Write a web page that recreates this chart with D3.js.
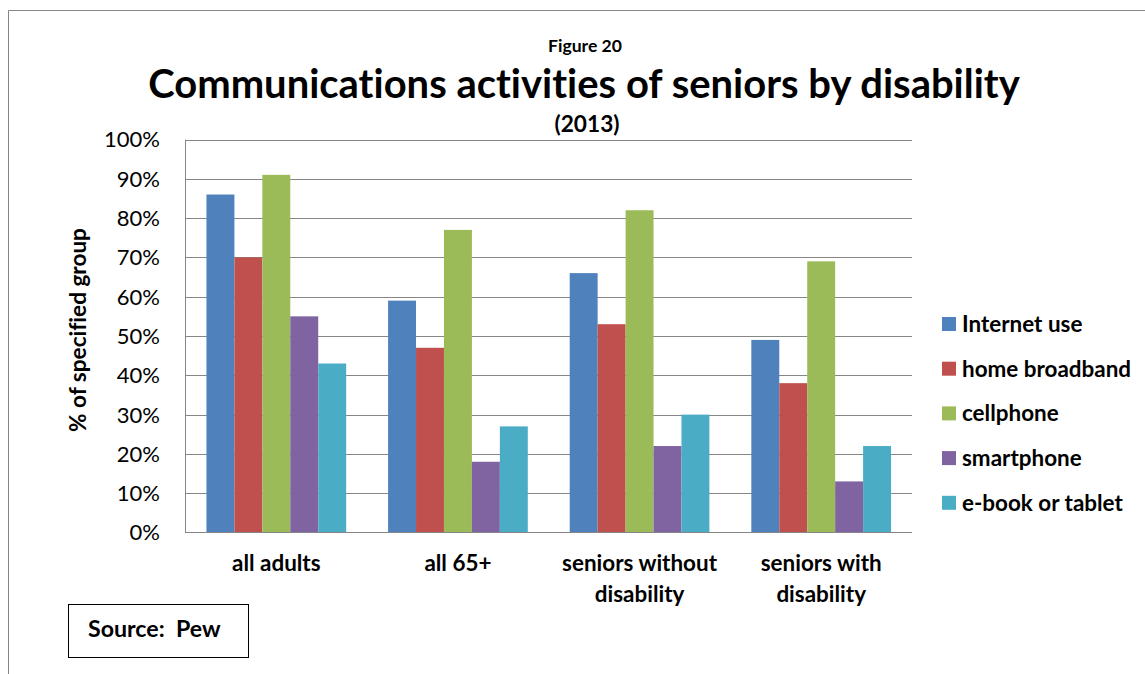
<!DOCTYPE html>
<html>
<head>
<meta charset="utf-8">
<script src="https://cdn.jsdelivr.net/npm/d3@7"></script>
<style>
  html, body { margin: 0; padding: 0; background: #fff; }
  svg { display: block; }
  text { font-family: Lato, "Open Sans", sans-serif; fill: #000;
         font-variant-ligatures: none; font-feature-settings: "liga" 0, "clig" 0; }
</style>
</head>
<body>
<svg id="chart" width="1145" height="674"></svg>
<script>
// Groups along the x axis (two-line labels are split on "\n")
const categories = ["all adults", "all 65+", "seniors without\ndisability", "seniors with\ndisability"];
// Series names, in legend order
const seriesNames = ["Internet use", "home broadband", "cellphone", "smartphone", "e-book or tablet"];
// Percent of each group, one array per series
const internetUse = [86, 59, 66, 49];
const homeBroadband = [70, 47, 53, 38];
const cellphone = [91, 77, 82, 69];
const smartphone = [55, 18, 22, 13];
const ebookTablet = [43, 27, 30, 22];
// Axis ticks
const yTicks = [0, 10, 20, 30, 40, 50, 60, 70, 80, 90, 100];

const seriesValues = [internetUse, homeBroadband, cellphone, smartphone, ebookTablet];
const colors = ["#4F81BD", "#C0504D", "#9BBB59", "#8064A2", "#4BACC6"];

const svg = d3.select("#chart");

// measure a string at a given size so labels can be sized to a target width
const probe = svg.append("text").attr("font-weight", "bold").attr("x", -9999).attr("y", -9999);
function widthAt(str, size, weight) {
  probe.attr("font-weight", weight || "bold").attr("font-size", size).text(str);
  return probe.node().getComputedTextLength();
}
function fitSize(str, target, weight) {
  return 40 * target / widthAt(str, 40, weight);
}
const base = fitSize("seniors without", 155, "bold");
const baseReg = fitSize("100%", 56, "normal");

// outer frame
svg.append("path")
  .attr("d", "M8.5,674 V10.5 H1145")
  .attr("fill", "none").attr("stroke", "#868686").attr("stroke-width", 1);

// plot area
const plot = { left: 185.5, right: 912, top: 139.5, bottom: 532.5 };

const x0 = d3.scaleBand().domain(categories).range([plot.left, plot.right]).padding(0);
const gw = x0.bandwidth();
const barW = gw / (seriesNames.length + 1.5);
const x1 = d3.scaleBand().domain(seriesNames)
  .range([0.75 * barW, gw - 0.75 * barW]).padding(0);
const y = d3.scaleLinear().domain([0, 100]).range([plot.bottom, plot.top]);

// gridlines
svg.append("g").selectAll("line").data(yTicks.filter(d => d > 0)).join("line")
  .attr("x1", plot.left).attr("x2", plot.right)
  .attr("y1", d => Math.round(y(d)) + 0.5).attr("y2", d => Math.round(y(d)) + 0.5)
  .attr("stroke", "#868686").attr("stroke-width", 1);

// bars
const groups = svg.append("g").selectAll("g").data(categories).join("g")
  .attr("transform", d => `translate(${x0(d)},0)`);
groups.selectAll("rect")
  .data((c, ci) => seriesNames.map((s, si) => ({ s, si, v: seriesValues[si][ci] })))
  .join("rect")
  .attr("x", d => x1(d.s))
  .attr("width", x1.bandwidth())
  .attr("y", d => y(d.v))
  .attr("height", d => y(0) - y(d.v))
  .attr("fill", d => colors[d.si]);

// axis lines
svg.append("line").attr("x1", plot.left).attr("x2", plot.left)
  .attr("y1", plot.top).attr("y2", plot.bottom + 0.5)
  .attr("stroke", "#868686").attr("stroke-width", 1);
svg.append("line").attr("x1", plot.left).attr("x2", plot.right)
  .attr("y1", plot.bottom).attr("y2", plot.bottom)
  .attr("stroke", "#868686").attr("stroke-width", 1);

// y tick labels
svg.append("g").selectAll("text").data(yTicks).join("text")
  .attr("x", 160).attr("y", d => y(d))
  .attr("dy", "0.36em")
  .attr("text-anchor", "end")
  .attr("font-size", baseReg)
  .text(d => d + "%");

// x category labels
const xl = svg.append("g").selectAll("text").data(categories).join("text")
  .attr("x", d => x0(d) + gw / 2)
  .attr("y", 571)
  .attr("text-anchor", "middle")
  .attr("font-weight", "bold")
  .attr("font-size", base);
xl.selectAll("tspan").data(d => d.split("\n")).join("tspan")
  .attr("x", function () { return d3.select(this.parentNode).attr("x"); })
  .attr("dy", (d, i) => i === 0 ? 0 : 31)
  .text(d => d);

// y axis title
svg.append("text")
  .attr("transform", "translate(86,330) rotate(-90)")
  .attr("text-anchor", "middle")
  .attr("font-weight", "bold")
  .attr("font-size", fitSize("% of specified group", 204, "bold"))
  .text("% of specified group");

// titles
svg.append("text").attr("x", 585).attr("y", 52).attr("text-anchor", "middle")
  .attr("font-weight", "bold").attr("font-size", fitSize("Figure 20", 74, "bold"))
  .text("Figure 20");
svg.append("text").attr("x", 584).attr("y", 98).attr("text-anchor", "middle")
  .attr("font-weight", "bold")
  .attr("font-size", fitSize("Communications activities of seniors by disability", 872, "bold"))
  .text("Communications activities of seniors by disability");
svg.append("text").attr("x", 587).attr("y", 132).attr("text-anchor", "middle")
  .attr("font-weight", "bold").attr("font-size", fitSize("(2013)", 65, "bold"))
  .text("(2013)");

// legend
const legend = svg.append("g").selectAll("g").data(seriesNames).join("g")
  .attr("transform", (d, i) => `translate(942,${324 + i * 44.7})`);
legend.append("rect").attr("x", 0).attr("y", -7).attr("width", 14).attr("height", 14)
  .attr("fill", (d, i) => colors[i]);
legend.append("text").attr("x", 20).attr("y", 0).attr("dy", "0.36em")
  .attr("font-weight", "bold").attr("font-size", base)
  .text(d => d);

// source box
svg.append("rect").attr("x", 68.5).attr("y", 604.5).attr("width", 180).attr("height", 53)
  .attr("fill", "#fff").attr("stroke", "#000").attr("stroke-width", 1);
svg.append("text").attr("x", 88).attr("y", 637)
  .attr("font-weight", "bold").attr("font-size", fitSize("Source:  Pew", 127, "bold"))
  .attr("xml:space", "preserve").style("white-space", "pre")
  .text("Source:  Pew");

probe.remove();
</script>
</body>
</html>
